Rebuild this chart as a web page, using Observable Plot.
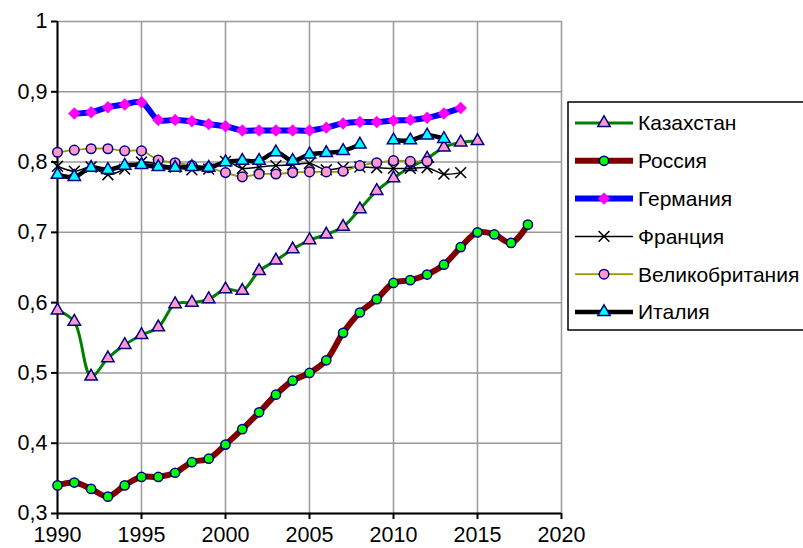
<!DOCTYPE html>
<html>
<head>
<meta charset="utf-8">
<script src="https://cdn.jsdelivr.net/npm/d3@7"></script>
<script src="https://cdn.jsdelivr.net/npm/@observablehq/plot@0.6"></script>
<style>
  html, body { margin: 0; padding: 0; background: #fff; overflow: hidden; }
  #wrap { position: relative; width: 803px; height: 548px; }
  #legend { position: absolute; left: 0; top: 0; pointer-events: none; }
</style>
</head>
<body>
<div id="wrap"></div>
<script>
const years = [1990,1991,1992,1993,1994,1995,1996,1997,1998,1999,2000,2001,2002,2003,2004,2005,2006,2007,2008,2009,2010,2011,2012,2013,2014,2015,2016,2017,2018];

const kazakhstan = [0.589,0.573,0.495,0.521,0.540,0.554,0.565,0.598,0.600,0.605,0.619,0.617,0.645,0.660,0.676,0.689,0.697,0.708,0.733,0.759,0.777,0.793,0.805,0.821,0.828,0.830,null,null,null];
const russia = [0.340,0.344,0.335,0.324,0.340,0.352,0.352,0.358,0.373,0.378,0.398,0.420,0.444,0.469,0.489,0.500,0.518,0.557,0.586,0.605,0.628,0.632,0.640,0.654,0.679,0.700,0.697,0.685,0.711];
const germany = [null,0.869,0.871,0.878,0.882,0.885,0.860,0.860,0.858,0.854,0.851,0.845,0.845,0.845,0.845,0.845,0.849,0.855,0.857,0.857,0.859,0.860,0.863,0.869,0.877,null,null,null,null];
const france = [0.794,0.787,0.793,0.782,0.790,0.800,0.797,0.793,0.789,0.790,0.801,0.791,0.793,0.795,0.796,0.798,0.789,0.792,0.793,0.792,0.791,0.791,0.792,0.783,0.785,null,null,null,null];
const uk = [0.814,0.817,0.819,0.819,0.816,0.816,0.803,0.799,0.795,0.792,0.785,0.779,0.783,0.783,0.785,0.786,0.786,0.787,0.795,0.799,0.802,0.801,0.801,null,null,null,null,null,null];
const italy = [0.782,0.779,0.792,0.789,0.795,0.796,0.793,0.792,0.793,0.792,0.800,0.802,0.802,0.814,0.802,0.811,0.813,0.816,0.825,null,0.831,0.831,0.838,0.833,null,null,null,null,null];

const seriesNames = ["Казахстан","Россия","Германия","Франция","Великобритания","Италия"];
const xTicks = [1990,1995,2000,2005,2010,2015,2020];
const yTicks = [0.3,0.4,0.5,0.6,0.7,0.8,0.9,1];

const seriesValues = [kazakhstan, russia, germany, france, uk, italy];
const styles = [
  {line:"#008000", lw:3,   symbol:"triangle", r:4.6, fill:"#FF99CC", stroke:"#000080", sw:1.5},
  {line:"#800000", lw:6,   symbol:"circle",   r:4.6, fill:"#00FF00", stroke:"#000080", sw:1.5},
  {line:"#0000FF", lw:6,   symbol:"diamond2", r:5.6, fill:"#FF00FF", stroke:"none",    sw:0},
  {line:"#000000", lw:1.5, symbol:"times",    r:5.0, fill:"none",    stroke:"#000000", sw:1.5},
  {line:"#999900", lw:1.8, symbol:"circle",   r:4.8, fill:"#FF99CC", stroke:"#000080", sw:1.5},
  {line:"#000000", lw:4.5, symbol:"triangle", r:4.6, fill:"#00FFFF", stroke:"#000080", sw:1.5}
];

const tables = seriesValues.map((vals, k) => years.map((y, i) => ({year: y, value: vals[i], name: seriesNames[k]})));

const marks = [
  Plot.gridX(xTicks, {stroke: "#999", strokeOpacity: 1, strokeWidth: 1.5}),
  Plot.gridY(yTicks, {stroke: "#999", strokeOpacity: 1, strokeWidth: 1.5}),
  Plot.ruleX([1990], {stroke: "#000", strokeWidth: 2}),
  Plot.ruleY([0.3], {stroke: "#000", strokeWidth: 2}),
  Plot.axisX({ticks: xTicks, tickFormat: d => String(d), tickSize: 6, tickPadding: 7, strokeWidth: 2, label: null}),
  Plot.axisY({ticks: yTicks, tickFormat: d => d === 1 ? "1" : d.toFixed(1).replace(".", ","), tickSize: 6, tickPadding: 4, strokeWidth: 2, label: null})
];
tables.forEach((t, k) => {
  const s = styles[k];
  marks.push(Plot.line(t, {x: "year", y: "value", stroke: s.line, strokeWidth: s.lw, curve: "catmull-rom"}));
  marks.push(Plot.dot(t.filter(d => d.value != null), {x: "year", y: "value", symbol: s.symbol, r: s.r, fill: s.fill, stroke: s.stroke, strokeWidth: s.sw}));
});

const chart = Plot.plot({
  width: 803,
  height: 548,
  marginLeft: 57,
  marginRight: 242,
  marginTop: 21,
  marginBottom: 35,
  x: {domain: [1990, 2020]},
  y: {domain: [0.3, 1]},
  style: {fontFamily: "'Liberation Sans', Arial, sans-serif", fontSize: "21.5px", background: "#fff", overflow: "visible"},
  marks
});
document.getElementById("wrap").appendChild(chart);

// Legend
const svg = d3.select("#wrap").append("svg").attr("id", "legend").attr("width", 803).attr("height", 548);
svg.append("rect").attr("x", 568).attr("y", 102).attr("width", 300).attr("height", 228)
  .attr("fill", "#fff").attr("stroke", "#000").attr("stroke-width", 1.5);
const symMap = {triangle: d3.symbolTriangle, circle: d3.symbolCircle, diamond2: d3.symbolDiamond2, times: d3.symbolTimes};
seriesNames.forEach((name, i) => {
  const s = styles[i];
  const cy = 123 + i * 37.8;
  svg.append("line").attr("x1", 575).attr("x2", 633).attr("y1", cy).attr("y2", cy)
    .attr("stroke", s.line).attr("stroke-width", s.lw);
  svg.append("path").attr("transform", `translate(604,${cy})`)
    .attr("d", d3.symbol(symMap[s.symbol], Math.PI * s.r * s.r)())
    .attr("fill", s.fill).attr("stroke", s.stroke).attr("stroke-width", s.sw);
  svg.append("text").attr("x", 638).attr("y", cy).attr("dy", "0.35em")
    .attr("font-family", "'Liberation Sans', Arial, sans-serif").attr("font-size", 21)
    .text(name);
});
</script>
</body>
</html>
